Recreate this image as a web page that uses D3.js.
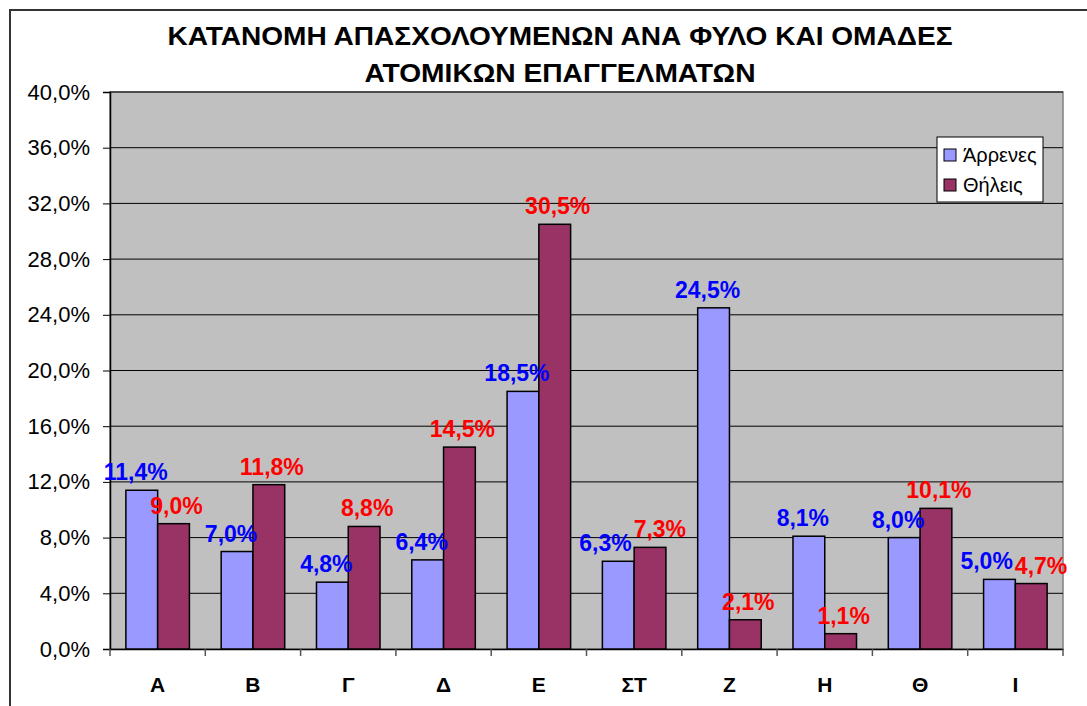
<!DOCTYPE html>
<html lang="el">
<head>
    <meta charset="UTF-8">
    <title>Κατανομή απασχολουμένων</title>
    <script src="https://cdnjs.cloudflare.com/ajax/libs/d3/7.8.5/d3.min.js"></script>
    <style>
        body { margin: 0; background: #fff; }
        svg { display: block; font-family: "Liberation Sans", Arial, sans-serif; }
        .grid line { stroke: #000; stroke-width: 1; }
        .bar { stroke: #000; stroke-width: 1.5; }
    </style>
</head>
<body>
<div id="chart"></div>
<script>
    const categories = ['Α', 'Β', 'Γ', 'Δ', 'Ε', 'ΣΤ', 'Ζ', 'Η', 'Θ', 'Ι'];
    const seriesNames = ['Άρρενες', 'Θήλεις'];
    const males = [11.4, 7.0, 4.8, 6.4, 18.5, 6.3, 24.5, 8.1, 8.0, 5.0];
    const females = [9.0, 11.8, 8.8, 14.5, 30.5, 7.3, 2.1, 1.1, 10.1, 4.7];
    const yTicks = [0, 4, 8, 12, 16, 20, 24, 28, 32, 36, 40];
    const titleLines = ['ΚΑΤΑΝΟΜΗ ΑΠΑΣΧΟΛΟΥΜΕΝΩΝ ΑΝΑ ΦΥΛΟ ΚΑΙ ΟΜΑΔΕΣ', 'ΑΤΟΜΙΚΩΝ ΕΠΑΓΓΕΛΜΑΤΩΝ'];

    const W = 1087, H = 706;
    const plot = {left: 110, right: 1063, top: 92, bottom: 649};
    const fills = ['#9999FF', '#993366'];
    const labelColors = ['#0000FF', '#FF0000'];
    const fmt = v => v.toFixed(1).replace('.', ',') + '%';

    const svg = d3.select('#chart').append('svg')
        .attr('width', W).attr('height', H);

    // outer chart border (runs off the right and bottom edges)
    svg.append('path')
        .attr('d', `M10,${H + 5} L10,10 L${W + 5},10`)
        .attr('fill', 'none').attr('stroke', '#333').attr('stroke-width', 2);

    const y = d3.scaleLinear().domain([0, 40]).range([plot.bottom, plot.top]);
    const x = d3.scaleBand().domain(categories).range([plot.left, plot.right]);
    const xs = d3.scaleBand().domain(seriesNames).range([0, x.bandwidth()])
        .paddingInner(0).paddingOuter(0.5);

    // plot area
    svg.append('rect')
        .attr('x', plot.left).attr('y', plot.top)
        .attr('width', plot.right - plot.left).attr('height', plot.bottom - plot.top)
        .attr('fill', '#C0C0C0').attr('stroke', '#808080').attr('stroke-width', 1.5);

    svg.append('g').attr('class', 'grid')
        .selectAll('line').data(yTicks.slice(1)).join('line')
        .attr('x1', plot.left).attr('x2', plot.right)
        .attr('y1', d => y(d)).attr('y2', d => y(d));

    // y axis
    const yAxis = svg.append('g')
        .attr('transform', `translate(${plot.left},0)`)
        .call(d3.axisLeft(y).tickValues(yTicks).tickSize(7).tickPadding(13).tickFormat(fmt));
    yAxis.select('.domain').attr('stroke', '#000').attr('stroke-width', 1.5);
    yAxis.selectAll('.tick line').attr('stroke', '#000');
    yAxis.selectAll('text').attr('font-size', 22).attr('fill', '#000')
        .attr('font-family', '"Liberation Sans", Arial, sans-serif');

    // x axis line and boundary ticks
    const xAxis = svg.append('g')
        .attr('transform', `translate(0,${plot.bottom})`)
        .call(d3.axisBottom(x).tickSize(0).tickPadding(28));
    xAxis.select('.domain').attr('stroke', '#000').attr('stroke-width', 1.5);
    xAxis.selectAll('text').attr('font-size', 21).attr('font-weight', 'bold').attr('fill', '#000')
        .attr('font-family', '"Liberation Sans", Arial, sans-serif');
    const bounds = categories.map(c => x(c)).concat([x.range()[1]]);
    svg.append('g').selectAll('line').data(bounds).join('line')
        .attr('x1', d => d).attr('x2', d => d)
        .attr('y1', plot.bottom).attr('y2', plot.bottom + 7)
        .attr('stroke', '#555').attr('stroke-width', 1.5);

    // bars
    const series = [males, females];
    series.forEach((vals, s) => {
        svg.append('g').selectAll('rect').data(vals).join('rect')
            .attr('class', 'bar')
            .attr('x', (d, i) => x(categories[i]) + xs(seriesNames[s]))
            .attr('y', d => y(d))
            .attr('width', xs.bandwidth())
            .attr('height', d => y(0) - y(d))
            .attr('fill', fills[s]);
    });

    // data labels
    const dx = [-6, 3];
    const labelGroups = series.map((vals, s) =>
        svg.append('g').selectAll('text').data(vals).join('text')
            .attr('x', (d, i) => x(categories[i]) + xs(seriesNames[s]) + xs.bandwidth() / 2 + dx[s])
            .attr('y', d => y(d) - 10)
            .attr('text-anchor', 'middle')
            .attr('font-size', 23).attr('font-weight', 'bold')
            .attr('fill', labelColors[s])
            .text(fmt)
    );
    // push apart the two labels of a group when they collide
    const mNodes = labelGroups[0].nodes(), fNodes = labelGroups[1].nodes();
    categories.forEach((c, i) => {
        const a = mNodes[i].getBBox(), b = fNodes[i].getBBox();
        const vOverlap = a.y < b.y + b.height - 6 && b.y < a.y + a.height - 6;
        const hOverlap = a.x + a.width + 2 - b.x;
        if (vOverlap && hOverlap > 0) {
            d3.select(mNodes[i]).attr('x', +mNodes[i].getAttribute('x') - hOverlap / 2);
            d3.select(fNodes[i]).attr('x', +fNodes[i].getAttribute('x') + hOverlap / 2);
        }
    });

    // title
    const titleWidths = [785, 391];
    svg.append('g').selectAll('text').data(titleLines).join('text')
        .attr('x', 560).attr('y', (d, i) => 45 + i * 37)
        .attr('text-anchor', 'middle')
        .attr('font-size', 26).attr('font-weight', 'bold').attr('fill', '#000')
        .attr('textLength', (d, i) => titleWidths[i])
        .attr('lengthAdjust', 'spacingAndGlyphs')
        .text(d => d);

    // legend
    const legend = svg.append('g').attr('transform', 'translate(937,137)');
    legend.append('rect').attr('width', 106).attr('height', 65)
        .attr('fill', '#fff').attr('stroke', '#000').attr('stroke-width', 1);
    seriesNames.forEach((name, s) => {
        legend.append('rect')
            .attr('x', 7).attr('y', 12 + s * 30).attr('width', 12).attr('height', 12)
            .attr('fill', fills[s]).attr('stroke', '#000');
        legend.append('text')
            .attr('x', 26).attr('y', 25 + s * 30)
            .attr('font-size', 20).attr('fill', '#000')
            .text(name);
    });
</script>
</body>
</html>
